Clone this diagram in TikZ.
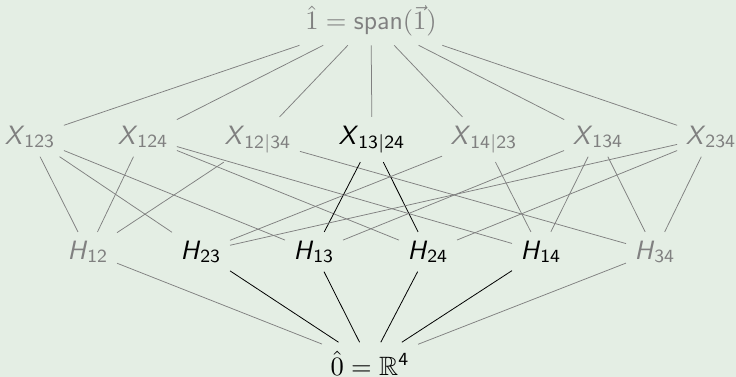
\RequirePackage{fix-cm}
\documentclass[tikz,border=0pt]{standalone}
\usepackage{amssymb}
\usepackage{graphicx}
\definecolor{bgc}{RGB}{228,238,228}
\definecolor{gc}{RGB}{128,128,128}
\newcommand\sz[1]{\scalebox{2.41}{\fontsize{11}{13.6}\selectfont #1}}
\newcommand\lb[2]{\sz{\textsf{\textit{#1}}$_{\mathsf{#2}}$}}
\tikzset{
  lat/.style={anchor=base, inner sep=8.5pt},
  gnode/.style={lat, text=gc},
  bnode/.style={lat, text=black},
  gedge/.style={draw=gc, line width=0.75pt},
  bedge/.style={draw=black, line width=0.8pt}
}
\begin{document}
\begin{tikzpicture}[x=1pt,y=-1pt]
\fill[bgc] (0,0) rectangle (736,377);
\useasboundingbox (0,0) rectangle (736,377);
\node[gnode] (top) at (371,30) {\sz{$\hat{1} = \textsf{span}(\vec{1})$}};
\node[gnode] (x123) at (30,144) {\lb{X}{123}};
\node[gnode] (x124) at (143,144) {\lb{X}{124}};
\node[gnode] (x1234) at (258,144) {\lb{X}{12|34}};
\node[bnode] (x1324) at (372,144) {\lb{X}{13|24}};
\node[gnode] (x1423) at (484,144) {\lb{X}{14|23}};
\node[gnode] (x134) at (598,144) {\lb{X}{134}};
\node[gnode] (x234) at (711,144) {\lb{X}{234}};
\node[gnode] (h12) at (88,259) {\lb{H}{12}};
\node[bnode] (h23) at (201,259) {\lb{H}{23}};
\node[bnode] (h13) at (314,259) {\lb{H}{13}};
\node[bnode] (h24) at (428,259) {\lb{H}{24}};
\node[bnode] (h14) at (541,259) {\lb{H}{14}};
\node[gnode] (h34) at (655,259) {\lb{H}{34}};
\node[bnode] (bot) at (370,375) {\sz{$\hat{0} = \mathbb{R}^{\mathsf{4}}$}};
% top to X
\foreach \n in {x123,x124,x1234,x1324,x1423,x134,x234}
  \draw[gedge] (top) -- (\n);
% X to H
\draw[gedge] (x123) -- (h12);
\draw[gedge] (x123) -- (h23);
\draw[gedge] (x123) -- (h13);
\draw[gedge] (x124) -- (h12);
\draw[gedge] (x124) -- (h24);
\draw[gedge] (x124) -- (h14);
\draw[gedge] (x1234) -- (h12);
\draw[gedge] (x1234) -- (h34);
\draw[bedge] (x1324) -- (h13);
\draw[bedge] (x1324) -- (h24);
\draw[gedge] (x1423) -- (h23);
\draw[gedge] (x1423) -- (h14);
\draw[gedge] (x134) -- (h13);
\draw[gedge] (x134) -- (h14);
\draw[gedge] (x134) -- (h34);
\draw[gedge] (x234) -- (h23);
\draw[gedge] (x234) -- (h24);
\draw[gedge] (x234) -- (h34);
% H to bottom
\draw[gedge] (h12) -- (bot);
\draw[bedge] (h23) -- (bot);
\draw[bedge] (h13) -- (bot);
\draw[bedge] (h24) -- (bot);
\draw[bedge] (h14) -- (bot);
\draw[gedge] (h34) -- (bot);
\end{tikzpicture}
\end{document}
